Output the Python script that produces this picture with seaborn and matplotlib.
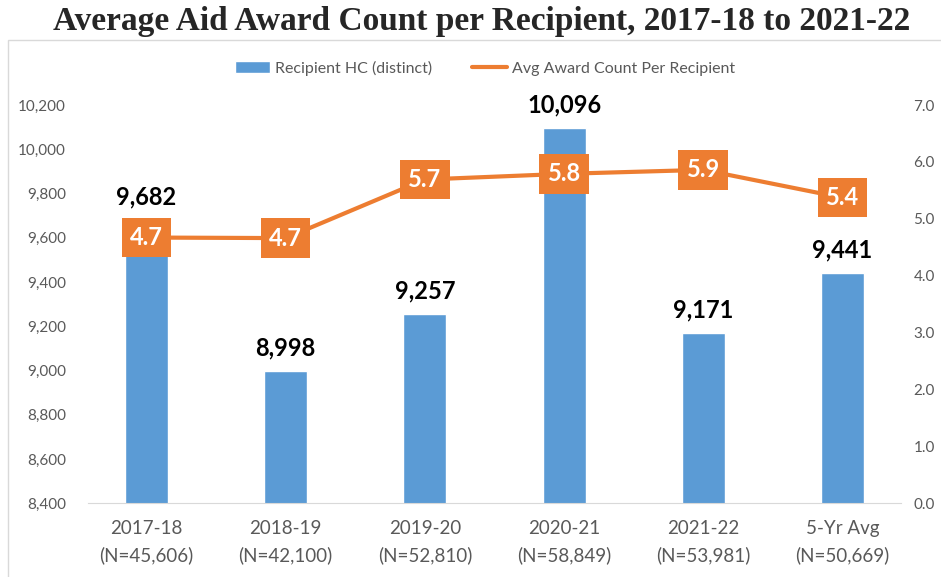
import matplotlib
matplotlib.use('Agg')
import matplotlib.pyplot as plt
import seaborn as sns
import pandas as pd
from matplotlib.patches import Rectangle
from matplotlib.lines import Line2D

# data
years = ['2017-18', '2018-19', '2019-20', '2020-21', '2021-22', '5-Yr Avg']
n_counts = ['45,606', '42,100', '52,810', '58,849', '53,981', '50,669']
recipient_hc = [9682, 8998, 9257, 10096, 9171, 9441]
avg_awards = [4.67, 4.66, 5.69, 5.79, 5.86, 5.37]

labels = [f'{y}\n(N={n})' for y, n in zip(years, n_counts)]
df = pd.DataFrame({'cat': labels, 'hc': recipient_hc, 'avg': avg_awards})

sns.set_style('white')
plt.rcParams['font.family'] = ['Lato', 'DejaVu Sans']

blue = '#5B9BD5'
orange = '#ED7D31'
gray = '#595959'

fig = plt.figure(figsize=(9.41, 5.77), dpi=100)
ax = fig.add_axes([0.0935, 0.128, 0.864, 0.69])

sns.barplot(data=df, x='cat', y='hc', color=blue, width=0.31, ax=ax,
            saturation=1)
ax.set_ylim(8400, 10200)
ax.set_yticks(range(8400, 10201, 200))
ax.set_yticklabels([f'{v:,}' for v in range(8400, 10201, 200)])
ax.set_xlabel('')
ax.set_ylabel('')
ax.bar_label(ax.containers[0], labels=[f'{v:,}' for v in recipient_hc],
             padding=8, fontsize=17, fontweight='bold', color='black')

ax2 = ax.twinx()
sns.lineplot(data=df, x='cat', y='avg', color=orange, lw=3, ax=ax2,
             sort=False)
ax2.set_ylim(0, 7)
ax2.set_yticks(range(0, 8))
ax2.set_yticklabels([f'{v:.1f}' for v in range(0, 8)])
ax2.set_ylabel('')
ax2.set_xlabel('')

for i, v in enumerate(avg_awards):
    ax2.annotate(f'{v:.1f}', (i, v), ha='center', va='center',
                 fontsize=17, fontweight='bold', color='white',
                 bbox=dict(boxstyle='square,pad=0.35', fc=orange, ec='none'))

for a in (ax, ax2):
    for s in a.spines.values():
        s.set_visible(False)
    a.tick_params(length=0, colors=gray, labelsize=11)
ax.spines['bottom'].set_visible(True)
ax.spines['bottom'].set_color('#D9D9D9')
ax.tick_params(axis='x', labelsize=13.5, pad=12)
for t in ax.get_xticklabels():
    t.set_linespacing(1.6)
ax.tick_params(axis='y', pad=16)
ax2.tick_params(axis='y', pad=9)

handles = [Rectangle((0, 0), 1, 1, fc=blue),
           Line2D([0], [0], color=orange, lw=3)]
fig.legend(handles, ['Recipient HC (distinct)', 'Avg Award Count Per Recipient'],
           loc='center', bbox_to_anchor=(0.515, 0.882), ncol=2, frameon=False,
           fontsize=11.5, labelcolor=gray, handlelength=2.2, handletextpad=0.3,
           columnspacing=2.5)

fig.patches.append(Rectangle((0.009, -0.01), 1.0, 0.94, transform=fig.transFigure,
                             fill=False, ec='#D9D9D9', lw=1))

fig.text(0.512, 0.962, 'Average Aid Award Count per Recipient, 2017-18 to 2021-22',
         ha='center', va='center', fontsize=24, fontweight='bold',
         family='Liberation Serif')

fig.savefig('out.png', dpi=100)
